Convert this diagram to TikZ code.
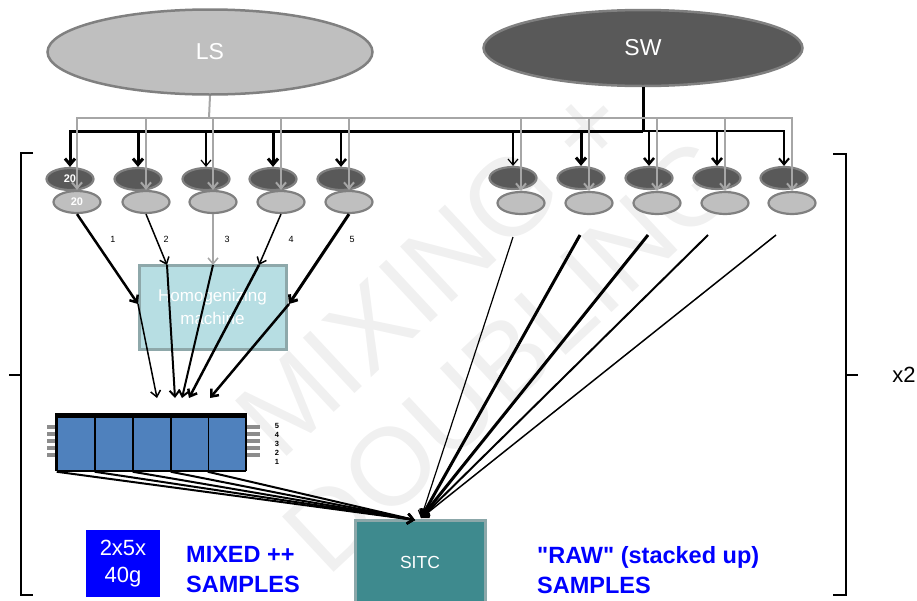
\documentclass[tikz,border=0pt]{standalone}
\usepackage{fontspec}
\setmainfont{Liberation Sans}
% plain family without TeX quote mapping, so straight quotes stay straight
\newfontfamily\plainsans{Liberation Sans}
\usetikzlibrary{arrows.meta,shapes.geometric}

\definecolor{lsfill}{HTML}{BFBFBF}
\definecolor{swfill}{HTML}{595959}
\definecolor{rim}{HTML}{808080}
\definecolor{feedgray}{HTML}{A6A6A6}
\definecolor{machfill}{HTML}{B7DEE3}
\definecolor{machrim}{HTML}{8EA8AA}
\definecolor{cellblue}{HTML}{4F81BD}
\definecolor{sitcfill}{HTML}{3E8A8E}
\definecolor{sitcrim}{HTML}{8BA7A9}
\definecolor{pureblue}{HTML}{0000FF}
\definecolor{marktext}{HTML}{F0F0F0}
\definecolor{pingray}{HTML}{8C8C8C}

\begin{document}
\begin{tikzpicture}[x=1pt,y=-1pt,
  source/.style={ellipse, draw=rim, line width=2.5pt, inner sep=0pt,
    text=white, font=\fontsize{23}{27}\selectfont},
  tank/.style={ellipse, draw=rim, line width=2.2pt, inner sep=0pt,
    minimum width=47pt, minimum height=22pt, text=white,
    font=\bfseries\fontsize{11}{12}\selectfont},
  darktank/.style={tank, fill=swfill},
  lighttank/.style={tank, fill=lsfill},
  barb/.style={-{Straight Barb[length=6pt,width=10pt]}},
  feed/.style={draw=feedgray, line width=2pt},
  feedarrow/.style={feed, barb},
  swarrow/.style={draw=black, barb},
  flow/.style={draw=black, barb},
  num/.style={font=\fontsize{9}{10}\selectfont},
  cell/.style={rectangle, fill=cellblue, draw=black, line width=1.5pt,
    minimum width=37pt, minimum height=54pt, inner sep=0pt},
  pin/.style={fill=pingray},
  caption/.style={text=pureblue, font=\plainsans\bfseries\fontsize{23.5}{30}\selectfont,
    align=left, anchor=west, inner sep=0pt},
  bracket/.style={draw=black, line width=2.5pt}
]
\clip (0,0) rectangle (917,600);

% faint background lettering
\node[rotate=43, text=marktext, font=\fontsize{110}{116}\selectfont,
  align=center] (wm) at (472,312) {MIXING +\\DOUBLING};

% the two sources
\node[source, fill=lsfill, minimum width=325pt, minimum height=85pt] (ls) at (210,52) {LS};
\node[source, fill=swfill, minimum width=319pt, minimum height=76pt] (sw) at (643,48) {SW};
\coordinate (swbus) at (643,131);
\coordinate (lsbus) at (209,118);

% tanks: dark (SW) on top, light (LS) below
\node[darktank] (d1) at (70,179) {20};
\node[darktank] (d2) at (138,179) {};
\node[darktank] (d3) at (206,179) {};
\node[darktank] (d4) at (273,179) {};
\node[darktank] (d5) at (341,179) {};
\node[darktank] (d6) at (513,178) {};
\node[darktank] (d7) at (581,178) {};
\node[darktank] (d8) at (649,178) {};
\node[darktank] (d9) at (717,178) {};
\node[darktank] (d10) at (784,178) {};

\node[lighttank] (l1) at (77,202) {20};
\node[lighttank] (l2) at (146,202) {};
\node[lighttank] (l3) at (213,202) {};
\node[lighttank] (l4) at (281,202) {};
\node[lighttank] (l5) at (349,202) {};
\node[lighttank] (l6) at (521,203) {};
\node[lighttank] (l7) at (589,203) {};
\node[lighttank] (l8) at (657,203) {};
\node[lighttank] (l9) at (725,203) {};
\node[lighttank] (l10) at (792,203) {};

% SW distribution (black)
\draw[line width=3pt] (sw.south) -- (swbus);
\draw[swarrow, line width=3pt] (swbus) -- (d1.north |- swbus) -- (d1.north);
\draw[swarrow, line width=2pt] (swbus) -- (d10.north |- swbus) -- (d10.north);
\draw[swarrow, line width=3pt] (d2.north |- swbus) -- (d2.north);
\draw[swarrow, line width=1.2pt] (d3.north |- swbus) -- (d3.north);
\draw[swarrow, line width=3pt] (d4.north |- swbus) -- (d4.north);
\draw[swarrow, line width=2.5pt] (d5.north |- swbus) -- (d5.north);
\draw[swarrow, line width=1.2pt] (d6.north |- swbus) -- (d6.north);
\draw[swarrow, line width=3pt] (d7.north |- swbus) -- (d7.north);
\draw[swarrow, line width=2.5pt] (d8.north |- swbus) -- (d8.north);
\draw[swarrow, line width=2.5pt] (d9.north |- swbus) -- (d9.north);

% LS distribution (grey)
\draw[feed] (ls.south) -- (lsbus);
\draw[feedarrow] (lsbus) -- (l1.north |- lsbus) -- (l1.north);
\draw[feedarrow] (lsbus) -- (l10.north |- lsbus) -- (l10.north);
\foreach \t in {l2,l3,l4,l5,l6,l7,l8,l9}
  \draw[feedarrow] (\t.north |- lsbus) -- (\t.north);

% homogenizing machine
\node[rectangle, fill=machfill, draw=machrim, line width=3pt,
  minimum width=147pt, minimum height=84pt, inner sep=0pt, text=white,
  align=center, font=\fontsize{17}{23}\selectfont] (mach) at (212.5,307)
  {Homogenizing\\machine};

% entry points on the machine and targets above the bundle
\coordinate (h1) at (138,304);
\coordinate (h2) at (167,265);
\coordinate (h3) at (213,265);
\coordinate (h4) at (259,265);
\coordinate (h5) at (289,304);
\coordinate (t1) at (157,398);
\coordinate (t2) at (175,398);
\coordinate (t3) at (182,398);
\coordinate (t4) at (189,398);
\coordinate (t5) at (210,398);

\draw[flow, line width=2.5pt] (l1.south) -- (h1);
\draw[flow, line width=1.5pt] (l2.south) -- (h2);
\draw[flow, draw=feedgray, line width=1.5pt] (l3.south) -- (h3);
\draw[flow, line width=1.5pt] (l4.south) -- (h4);
\draw[flow, line width=3pt] (l5.south) -- (h5);

\draw[flow, line width=1.5pt] (h1) -- (t1);
\draw[flow, line width=2pt] (h2) -- (t2);
\draw[flow, line width=2pt] (h3) -- (t3);
\draw[flow, line width=2.5pt] (h4) -- (t4);
\draw[flow, line width=2.5pt] (h5) -- (t5);

\node[num] (n1) at (113,239) {1};
\node[num] (n2) at (166,239) {2};
\node[num] (n3) at (227,239) {3};
\node[num] (n4) at (291,239) {4};
\node[num] (n5) at (352,239) {5};

% sample bundle with its five cells
\foreach \y in {427,434,441,448,455} {
  \fill[pin] (47,\y-2) rectangle (56,\y+2);
  \fill[pin] (247,\y-2) rectangle (260,\y+2);
}
\node[rectangle, fill=black, minimum width=192pt, minimum height=58pt,
  inner sep=0pt] (bundle) at (151,442) {};
\node[cell] (c1) at (76,444) {};
\node[cell] (c2) at (114,444) {};
\node[cell] (c3) at (152,444) {};
\node[cell] (c4) at (190,444) {};
\node[cell] (c5) at (227,444) {};
\node[inner sep=0pt, align=center, font=\bfseries\fontsize{7.5}{9}\selectfont]
  (pins) at (277,444) {5\\4\\3\\2\\1};

% SITC
\node[rectangle, fill=sitcfill, draw=sitcrim, line width=3pt,
  minimum width=130pt, minimum height=84pt, inner sep=0pt, text=white,
  font=\fontsize{17.5}{20}\selectfont] (sitc) at (420,562) {SITC};
\coordinate (inL) at (415,520);
\coordinate (inR) at (421,518);

\foreach \c in {c1,c2,c3,c4,c5}
  \draw[flow, line width=2pt] (\c.south west) -- (inL);

% raw lines from the right-hand tanks
\coordinate (r1) at (513,237);
\coordinate (r2) at (580,235);
\coordinate (r3) at (648,235);
\coordinate (r4) at (708,235);
\coordinate (r5) at (776,235);
\draw[flow, line width=1.2pt] (r1) -- (inR);
\draw[flow, line width=3pt] (r2) -- (inR);
\draw[flow, line width=3pt] (r3) -- (inR);
\draw[flow, line width=2pt] (r4) -- (inR);
\draw[flow, line width=1.5pt] (r5) -- (inR);

% bottom captions
\node[rectangle, fill=pureblue, minimum width=74pt, minimum height=67pt,
  inner sep=0pt, text=white, align=center,
  font=\fontsize{22}{27}\selectfont] (dose) at (123,563.5) {2x5x\\40g};
\node[caption] (mixed) at (186,570) {MIXED ++\\SAMPLES};
\node[caption] (raw) at (537,570) {"RAW" (stacked up)\\SAMPLES};

% brackets around the repeated block
\draw[bracket] (33,153) -- (21,153) -- (21,595) -- (33,595);
\draw[bracket] (21,375) -- (9,375);
\draw[bracket] (833,154) -- (846,154) -- (846,595) -- (833,595);
\draw[bracket] (846,375) -- (858,375);
\node[font=\fontsize{22}{24}\selectfont, inner sep=0pt] (times) at (904,375) {x2};
\end{tikzpicture}
\end{document}
